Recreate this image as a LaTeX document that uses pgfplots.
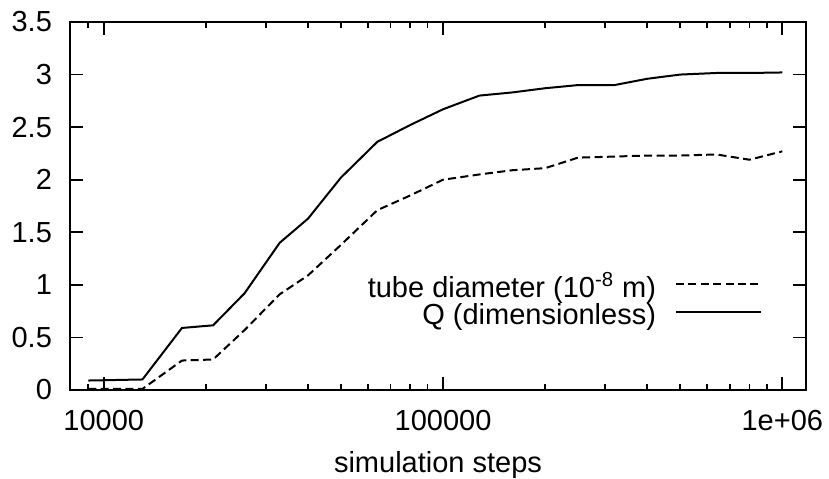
\documentclass[border=0pt]{standalone}
\usepackage{fontspec}
\setmainfont{Liberation Sans}
\usepackage{pgfplots}
\pgfplotsset{compat=1.18}
\begin{document}
\fontsize{14.5pt}{16pt}\selectfont
\begin{tikzpicture}
\begin{axis}[
  name=ax,
  scale only axis,
  width=367.7pt, height=184pt,
  xmode=log,
  xmin=7970, xmax=1.172e6,
  ymin=0, ymax=3.5,
  xtick={10000,100000,1000000},
  xticklabels={10000,100000,1e+06},
  minor xtick={9000,20000,30000,40000,50000,60000,70000,80000,90000,200000,300000,400000,500000,600000,700000,800000,900000},
  ytick={0,0.5,1,1.5,2,2.5,3,3.5},
  yticklabels={0,0.5,1,1.5,2,2.5,3,3.5},
  tick align=inside,
  tick pos=both,
  major tick length=6.5pt,
  minor tick length=3pt,
  every tick/.style={black, line width=0.9pt},
  axis line style={line width=1.1pt},
  xticklabel style={inner sep=0pt, anchor=north, yshift=-10pt, font=\fontsize{14.5pt}{16pt}\selectfont},
  yticklabel style={inner sep=0pt, anchor=east, xshift=-9pt, font=\fontsize{14.5pt}{16pt}\selectfont},
  xlabel={simulation steps},
  xlabel style={at={(axis description cs:0.5,0)}, anchor=base, inner sep=0pt, yshift=-41.5pt, font=\fontsize{14.5pt}{16pt}\selectfont},
  legend cell align=right,
  legend plot pos=right,
  legend image code/.code={\draw[#1] (0pt,3.5pt) -- (42.5pt,3.5pt);},
  legend style={at={(rel axis cs:0.9406,0.231)}, anchor=east, draw=none, fill=none,
    inner sep=0pt, outer sep=0pt, row sep=0pt, column sep=9.5pt,
    nodes={inner sep=0pt, text height=10pt, text depth=3.9pt, font=\fontsize{14.5pt}{16pt}\selectfont}},
]
\addplot[black, line width=1pt, dash pattern=on 4pt off 2.2pt] coordinates {
(9000,0.01) (13000,0.01) (17000,0.28) (21000,0.29) (26000,0.57) (33000,0.91)
(40000,1.09) (50000,1.38) (64000,1.71) (80000,1.85) (100000,2.00) (128000,2.05)
(160000,2.09) (200000,2.11) (250000,2.21) (320000,2.22) (400000,2.23) (500000,2.23)
(640000,2.24) (800000,2.19) (1000000,2.27)};
\addlegendentry{tube diameter (10\textsuperscript{-8} m)}
\addplot[black, line width=1pt] coordinates {
(9000,0.09) (13000,0.10) (17000,0.59) (21000,0.615) (26000,0.92) (33000,1.40)
(40000,1.63) (50000,2.02) (64000,2.36) (80000,2.52) (100000,2.67) (128000,2.80)
(160000,2.83) (200000,2.87) (250000,2.90) (320000,2.90) (400000,2.96) (500000,3.00)
(640000,3.015) (800000,3.015) (1000000,3.02)};
\addlegendentry{Q (dimensionless)}
\end{axis}
\pgfresetboundingbox
\path[use as bounding box] ([shift={(-35.15pt,-44.5pt)}]ax.south west) rectangle ([shift={(11.65pt,11pt)}]ax.north east);
\end{tikzpicture}
\end{document}
